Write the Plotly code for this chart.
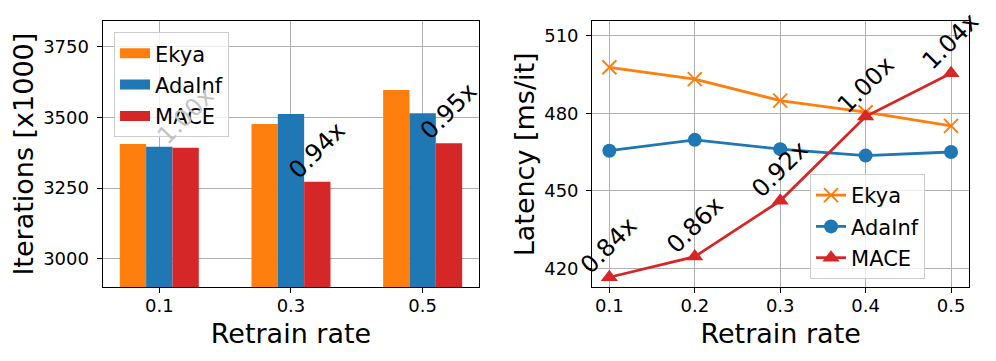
import plotly.graph_objects as go
from plotly.subplots import make_subplots

# data
rates_bar = ["0.1", "0.3", "0.5"]
iter_ekya = [3406, 3477, 3597]
iter_adainf = [3396, 3512, 3515]
iter_mace = [3393, 3272, 3409]

rates_line = [0.1, 0.2, 0.3, 0.4, 0.5]
lat_ekya = [497.8, 493.2, 484.9, 480.4, 475.1]
lat_adainf = [465.5, 469.7, 466.1, 463.6, 465.0]
lat_mace = [416.5, 424.5, 446.1, 478.7, 495.5]

ORANGE = "#ff7f0e"
BLUE = "#1f77b4"
RED = "#d62728"
FONT = "DejaVu Sans"

# page body has an 8px margin, so the figure is made a bit smaller than the window
W, H = 980, 345

fig = make_subplots(rows=1, cols=2)

# ---- left: grouped bars
for name, vals, col, off in [("Ekya", iter_ekya, ORANGE, -0.2),
                             ("AdaInf", iter_adainf, BLUE, 0.0),
                             ("MACE", iter_mace, RED, 0.2)]:
    fig.add_trace(go.Bar(x=list(range(3)), y=vals, width=0.2, offset=off - 0.1,
                         marker=dict(color=col, line=dict(width=0)),
                         showlegend=False, base=0), row=1, col=1)
    # legend swatch as a thick line so it looks like the wide matplotlib patch
    fig.add_trace(go.Scatter(x=[None], y=[None], mode="lines", name=name,
                             line=dict(color=col, width=14), legendgroup=name,
                             legend="legend"), row=1, col=1)

for i in range(3):
    ratio = iter_mace[i] / iter_ekya[i]
    # the first label sits behind the semi-transparent legend -> washed out
    c = "#c4c4c4" if i == 0 else "black"
    fig.add_annotation(x=i + 0.2, y=iter_mace[i], xref="x", yref="y",
                       text=f"{ratio:.2f}x", showarrow=False, textangle=-45,
                       xanchor="center", yanchor="bottom", yshift=-5,
                       font=dict(family=FONT, size=24, color=c))

# ---- right: lines
fig.add_trace(go.Scatter(x=rates_line, y=lat_ekya, name="Ekya", mode="lines+markers",
                         line=dict(color=ORANGE, width=2.8),
                         marker=dict(symbol="x-thin", size=14, line=dict(color=ORANGE, width=2)),
                         legend="legend2", legendgroup="e2"), row=1, col=2)
fig.add_trace(go.Scatter(x=rates_line, y=lat_adainf, name="AdaInf", mode="lines+markers",
                         line=dict(color=BLUE, width=2.8),
                         marker=dict(symbol="circle", size=14, color=BLUE),
                         legend="legend2", legendgroup="a2"), row=1, col=2)
fig.add_trace(go.Scatter(x=rates_line, y=lat_mace, name="MACE", mode="lines+markers",
                         line=dict(color=RED, width=2.8),
                         marker=dict(symbol="triangle-up", size=15, color=RED),
                         legend="legend2", legendgroup="m2"), row=1, col=2)

for x, m, e in zip(rates_line, lat_mace, lat_ekya):
    fig.add_annotation(x=x, y=m, xref="x2", yref="y2", text=f"{m / e:.2f}x",
                       showarrow=False, textangle=-45, xanchor="center", yanchor="bottom",
                       yshift=-5, font=dict(family=FONT, size=24, color="black"))

axis_common = dict(showline=True, linecolor="black", linewidth=1.2, mirror=True,
                   ticks="outside", ticklen=5, tickcolor="black",
                   showgrid=True, gridcolor="#b0b0b0", gridwidth=1,
                   zeroline=False, automargin=False,
                   tickfont=dict(family=FONT, size=18, color="black"))

fig.update_xaxes(axis_common)
fig.update_yaxes(axis_common)
fig.update_xaxes(ticklabelstandoff=-3)
fig.update_yaxes(ticklabelstandoff=4)

fig.update_xaxes(domain=[0.0966, 0.4809], range=[-0.43, 2.43],
                 tickvals=[0, 1, 2], ticktext=rates_bar,
                 title=dict(text="Retrain rate", standoff=9,
                            font=dict(family=FONT, size=27, color="black")),
                 row=1, col=1)
fig.update_yaxes(domain=[0.1913, 0.9614], range=[2900, 3840],
                 tickvals=[3000, 3250, 3500, 3750],
                 title=dict(text="Iterations [x1000]", standoff=11,
                            font=dict(family=FONT, size=27, color="black")),
                 row=1, col=1)
fig.update_xaxes(domain=[0.5962, 0.9806], range=[0.08, 0.521],
                 tickvals=rates_line, ticktext=["0.1", "0.2", "0.3", "0.4", "0.5"],
                 title=dict(text="Retrain rate", standoff=9,
                            font=dict(family=FONT, size=27, color="black")),
                 row=1, col=2)
fig.update_yaxes(domain=[0.1904, 0.9614], range=[412.6, 515.6],
                 tickvals=[420, 450, 480, 510],
                 title=dict(text="Latency [ms/it]", standoff=1,
                            font=dict(family=FONT, size=27, color="black")),
                 row=1, col=2)

legend_style = dict(bgcolor="rgba(255,255,255,0.8)", bordercolor="#cccccc", borderwidth=1,
                    font=dict(family=FONT, size=21, color="black"), tracegroupgap=1)

fig.update_layout(
    width=W, height=H,
    margin=dict(l=0, r=0, t=0, b=0),
    paper_bgcolor="white", plot_bgcolor="white",
    font=dict(family=FONT, color="black"),
    barmode="overlay",
    legend=dict(legend_style, x=0.1082, y=0.930, xanchor="left", yanchor="top"),
    legend2=dict(legend_style, x=0.8184, y=0.519, xanchor="left", yanchor="top"),
)

fig.write_html("out.html")
